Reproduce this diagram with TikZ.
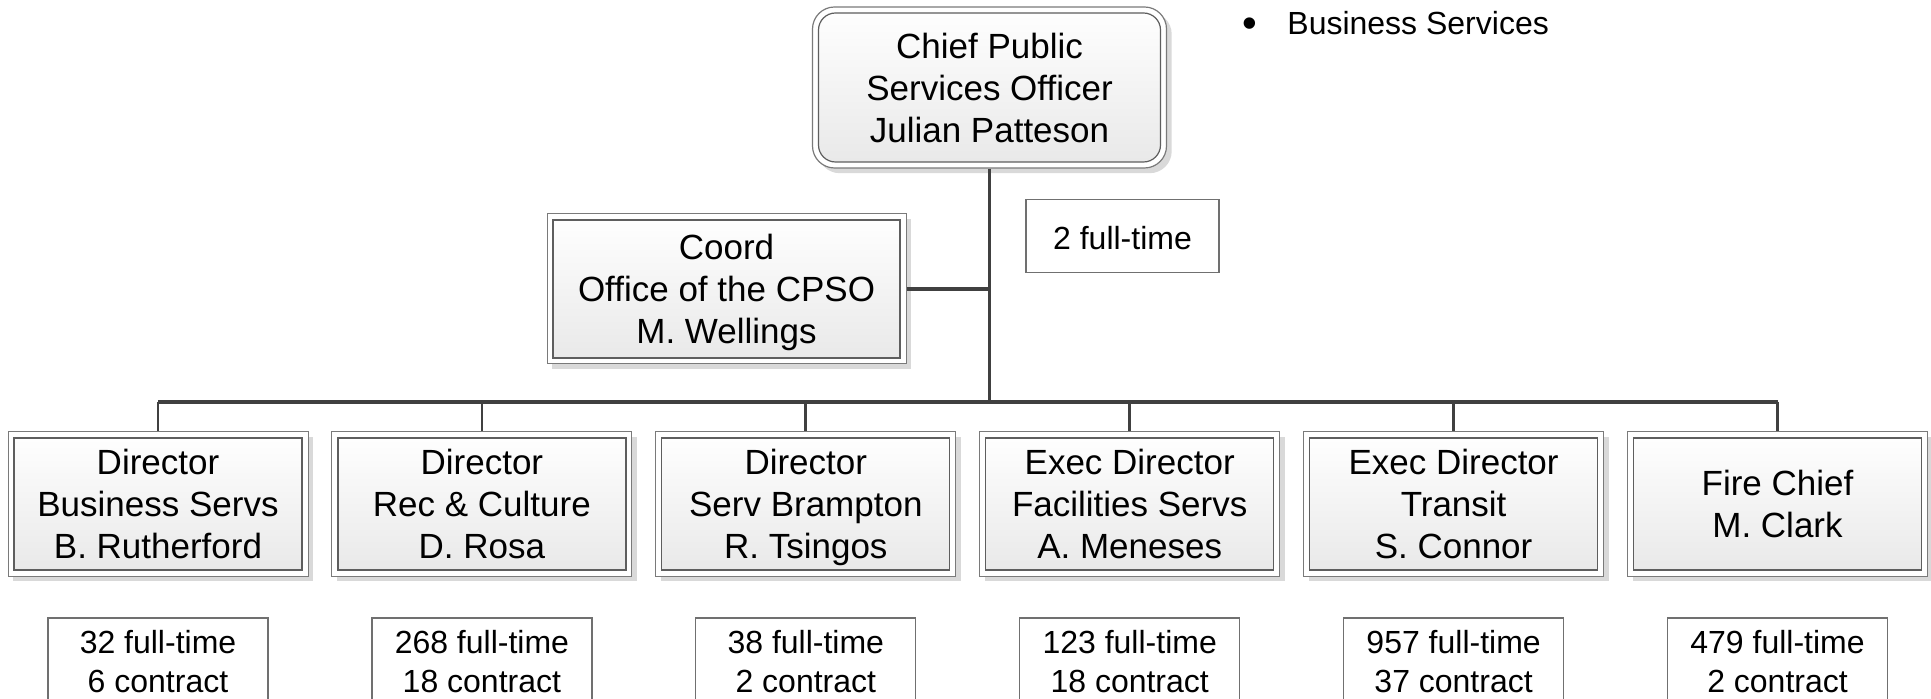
\documentclass[tikz,border=0pt]{standalone}
\usepackage{fontspec}
\setmainfont{Liberation Sans}
\usetikzlibrary{shadows}

\definecolor{conn}{HTML}{404040}
\definecolor{frameout}{HTML}{7A7A7A}
\definecolor{framein}{HTML}{5E5E5E}
\definecolor{shadowgray}{HTML}{D9D9D9}
\definecolor{fillbot}{HTML}{E8E8E8}
\definecolor{countframe}{HTML}{707070}

% strut of given height and depth, used to fix line positions in boxes
\newcommand\rs[2]{\rule[-#2]{0pt}{\dimexpr#1+#2\relax}}
\newcommand\bS{\rs{16.8pt}{4.2pt}}    % lines in the position boxes
\newcommand\nS{\rs{16.25pt}{3.45pt}}  % staff count lines
\newcommand\tS{\rs{14.6pt}{1.4pt}}    % single-line count

\tikzset{
  boxfont/.style={font=\fontsize{17.5pt}{21pt}\selectfont},
  countfont/.style={font=\fontsize{16pt}{19.7pt}\selectfont},
  orgbox/.style={rectangle, draw=frameout, line width=0.5pt, fill=white,
    inner sep=0pt, align=center, boxfont,
    drop shadow={shadow xshift=2.6pt, shadow yshift=-2.6pt, fill=shadowgray, opacity=1},
    path picture={\shade[top color=white, bottom color=fillbot, draw=framein, line width=0.6pt]
      ([shift={(3pt,-3pt)}]path picture bounding box.north west) rectangle
      ([shift={(-3pt,3pt)}]path picture bounding box.south east);}},
  chiefbox/.style={rectangle, rounded corners=11pt, draw=frameout, line width=0.6pt, fill=white,
    inner sep=0pt, align=center, boxfont,
    drop shadow={shadow xshift=2.6pt, shadow yshift=-2.6pt, fill=shadowgray, opacity=1},
    path picture={\shade[top color=white, bottom color=fillbot, draw=framein, line width=0.6pt, rounded corners=8.5pt]
      ([shift={(3pt,-3pt)}]path picture bounding box.north west) rectangle
      ([shift={(-3pt,3pt)}]path picture bounding box.south east);}},
  dirbox/.style={orgbox, minimum width=150pt, minimum height=72pt},
  countbox/.style={rectangle, draw=countframe, line width=0.6pt, inner sep=0pt, align=center,
    countfont},
  trunk/.style={draw=conn, line width=1.9pt},
  drop/.style={draw=conn, line width=1.4pt},
}

\begin{document}
\begin{tikzpicture}[x=0.5pt, y=-0.5pt]
\path[use as bounding box] (0,0) rectangle (1931,699);
\clip (0,0) rectangle (1931,699);

% top position
\node[chiefbox, minimum width=177pt, minimum height=80.5pt] (chief) at (989.5,87.5)
  {Chief Public\bS\\Services Officer\bS\\Julian Patteson\bS};

% staff office
\node[orgbox, minimum width=179.5pt, minimum height=75pt] (coord) at (726.5,289)
  {Coord\bS\\Office of the CPSO\bS\\M. Wellings\bS};
\node[countbox, minimum width=96.5pt, minimum height=36.5pt] (ft) at (1122.5,236)
  {2 full-time\tS};

% direct reports
\node[dirbox] (d1) at (158,504)    {Director\bS\\Business Servs\bS\\B. Rutherford\bS};
\node[dirbox] (d2) at (481.9,504)  {Director\bS\\Rec \& Culture\bS\\D. Rosa\bS};
\node[dirbox] (d3) at (805.8,504)  {Director\bS\\Serv Brampton\bS\\R. Tsingos\bS};
\node[dirbox] (d4) at (1129.7,504) {Exec Director\bS\\Facilities Servs\bS\\A. Meneses\bS};
\node[dirbox] (d5) at (1453.6,504) {Exec Director\bS\\Transit\bS\\S. Connor\bS};
\node[dirbox] (d6) at (1777.5,504) {Fire Chief\bS\\M. Clark\bS};

% staff counts
\foreach \i/\x/\a/\b in {1/158/32/6, 2/481.9/268/18, 3/805.8/38/2,
                         4/1129.7/123/18, 5/1453.6/957/37, 6/1777.5/479/2}
  \node[countbox, minimum width=110pt, minimum height=42pt] (c\i) at (\x,660)
    {\a\ full-time\nS\\\b\ contract\nS};

% note
\node[inner sep=0pt, font=\fontsize{21pt}{21pt}\selectfont] (bul) at (1250,28) {•};
\node[anchor=base west, inner sep=0pt, font=\fontsize{16pt}{19pt}\selectfont] (note)
  at (1287,35) {Business Services};

% reporting lines
\coordinate (bus) at (989.5,402);
\draw[trunk] (chief.south) -- (bus);
\draw[trunk] (coord.east) -- (coord.east -| chief.south);
\draw[trunk] (d1.north |- bus) -- (d6.north |- bus);
\foreach \i in {1,...,6}
  \draw[drop] (d\i.north |- bus) -- (d\i.north);
\end{tikzpicture}
\end{document}
